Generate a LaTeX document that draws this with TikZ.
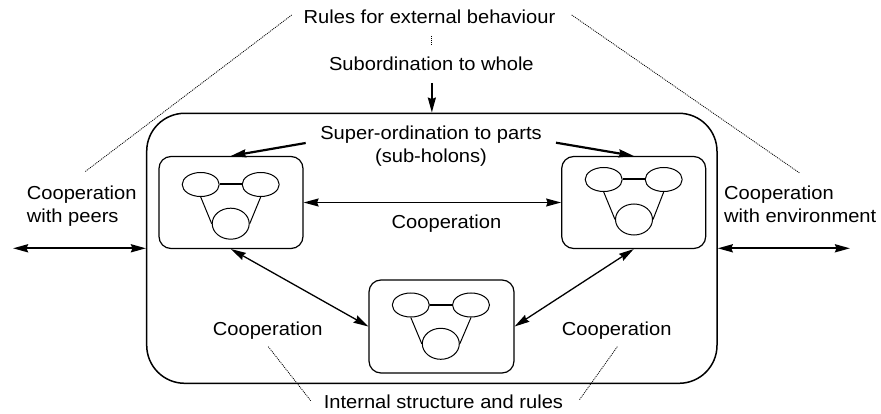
\documentclass[tikz,border=0pt]{standalone}
\usepackage{fontspec}
\setmainfont{Liberation Sans}[FakeStretch=1.07]
\usetikzlibrary{arrows.meta,shapes.geometric}
\begin{document}
\begin{tikzpicture}[x=1pt,y=-1pt,
  lbl/.style={font=\fontsize{18.8}{23.4}\selectfont, inner sep=0pt},
  holonbox/.style={draw, rounded corners=12pt, line width=1.2pt,
    minimum width=144pt, minimum height=92pt, inner sep=0pt},
  outerbox/.style={draw, rounded corners=38pt, line width=1.5pt,
    minimum width=570.3pt, minimum height=270pt, inner sep=0pt},
  part/.style={draw, ellipse, line width=1pt, minimum width=37pt,
    minimum height=24pt, inner sep=0pt},
  core/.style={draw, ellipse, line width=1pt, minimum width=37pt,
    minimum height=31pt, inner sep=0pt},
  link/.style={line width=2pt},
  tie/.style={line width=1pt},
  tip/.tip={Stealth[length=15pt,width=8pt,inset=1.5pt]},
  coop/.style={line width=1.3pt, tip-tip},
  extcoop/.style={line width=2pt, tip-tip},
  order/.style={line width=2.2pt, -tip},
  hint/.style={line width=0.8pt, dash pattern=on 1pt off 1pt, black},
]
\useasboundingbox (0,0) rectangle (881,414);

% the whole holon
\node[outerbox] (holon) at (431.85,248.3) {};

% sub-holons
\node[holonbox] (lbox) at (231,202.5) {};
\node[holonbox] (rbox) at (633.7,202.5) {};
\node[holonbox, minimum width=145pt, minimum height=93pt] (bbox) at (441.5,326.5) {};

% parts inside the left sub-holon
\node[part] (l1) at (200.7,184.5) {};
\node[part] (l2) at (260.7,184.5) {};
\node[core] (l3) at (230.7,223.7) {};
\draw[link] (l1) -- (l2);
\draw[tie] (l1.south) -- (l3.west);
\draw[tie] (l2.south) -- (l3.east);

% parts inside the right sub-holon
\node[part] (r1) at (603.7,179.5) {};
\node[part] (r2) at (663.7,179.5) {};
\node[core] (r3) at (634,219.5) {};
\draw[link] (r1) -- (r2);
\draw[tie] (r1.south) -- (r3.west);
\draw[tie] (r2.south) -- (r3.east);

% parts inside the lower sub-holon
\node[part] (b1) at (410.8,305) {};
\node[part] (b2) at (471,305) {};
\node[core] (b3) at (440.8,343.8) {};
\draw[link] (b1) -- (b2);
\draw[tie] (b1.south) -- (b3.west);
\draw[tie] (b2.south) -- (b3.east);

% labels
\node[lbl, anchor=base] (rules) at (429.5,23.3) {Rules for external behaviour};
\node[lbl, anchor=base] (subord) at (431.4,71) {Subordination to whole};
\node[lbl, anchor=base, align=center] (super) at (431,163)
  {Super-ordination to parts\\(sub-holons)};
\node[lbl, anchor=base] (coopmid) at (446.5,229) {Cooperation};
\node[lbl, anchor=base west, align=left] (peers) at (26.7,222.7)
  {Cooperation\\with peers};
\node[lbl, anchor=base west, align=left] (env) at (724,222.7)
  {Cooperation\\with environment};
\node[lbl, anchor=base] (coopl) at (267.7,335) {Cooperation};
\node[lbl, anchor=base] (coopr) at (616.7,335) {Cooperation};
\node[lbl, anchor=base] (internal) at (443.4,408.3) {Internal structure and rules};

% free ends of connectors
\coordinate (rulesdot) at (431,36);
\coordinate (subdot) at (431,45);
\coordinate (rulesl) at (291.7,15);
\coordinate (peersdot) at (85,171.7);
\coordinate (rulesr) at (571.7,15);
\coordinate (envdot) at (800,173.3);
\coordinate (coopldot) at (268.3,346.7);
\coordinate (intl) at (310.7,400.7);
\coordinate (coopdot) at (617.3,346.7);
\coordinate (intr) at (579.3,400);
\coordinate (subtail) at (431.85,83);
\coordinate (superl) at (305.7,143);
\coordinate (superr) at (556,142.7);
\coordinate (peersend) at (13,248.3);
\coordinate (envend) at (850,248.3);

% dotted associations
\draw[hint] (rulesdot) -- (subdot);
\draw[hint] (rulesl) -- (peersdot);
\draw[hint] (rulesr) -- (envdot);
\draw[hint] (coopldot) -- (intl);
\draw[hint] (coopdot) -- (intr);

% subordination and super-ordination
\draw[order, line width=1.8pt] (subtail) -- (holon.north);
\draw[order] (superl) -- (lbox.north);
\draw[order] (superr) -- (rbox.north);

% cooperation
\draw[coop] (lbox) -- (rbox);
\draw[coop] (lbox.south) -- (bbox.west);
\draw[coop] (bbox.east) -- (rbox.south);
\draw[extcoop] (peersend) -- (holon.west);
\draw[extcoop] (holon.east) -- (envend);
\end{tikzpicture}
\end{document}
